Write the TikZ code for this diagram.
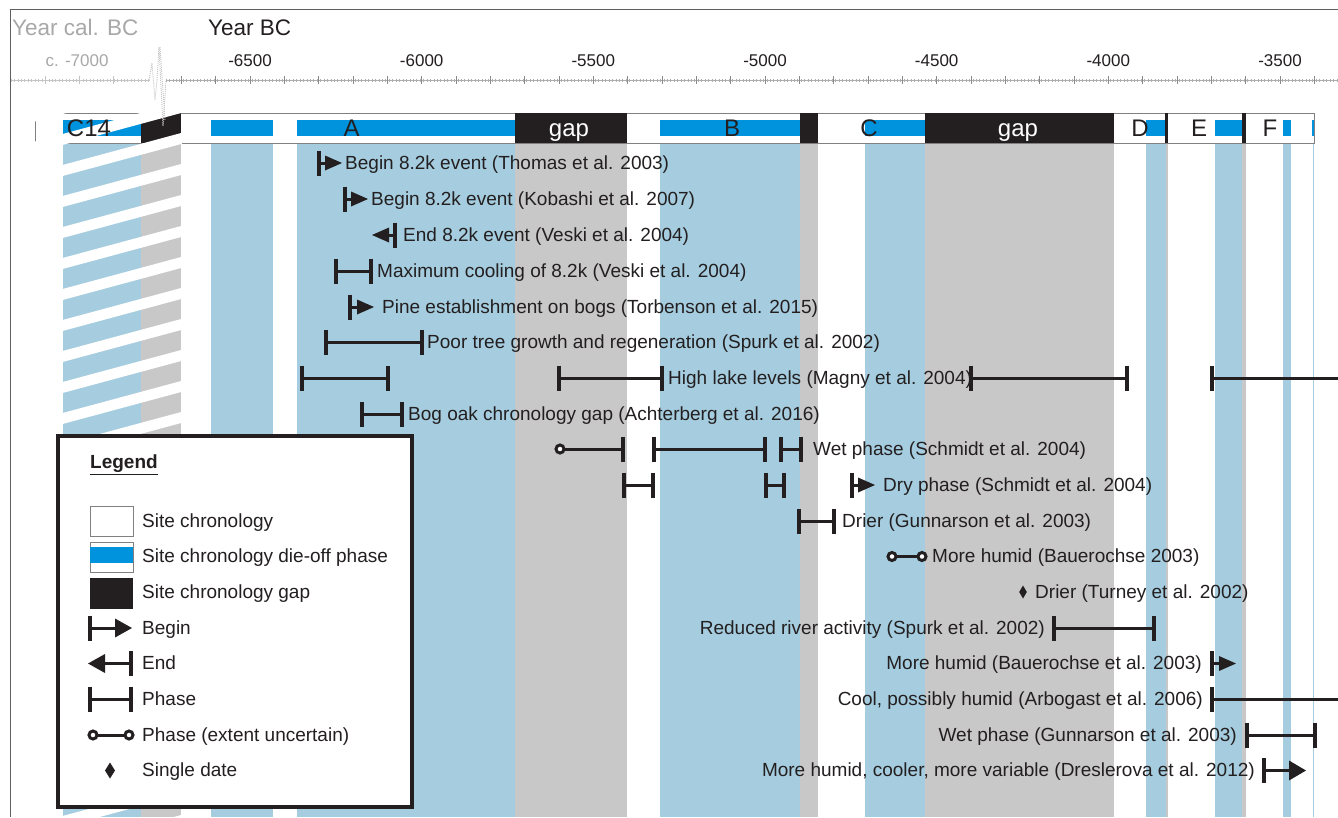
\documentclass[tikz,border=0pt]{standalone}
\usepackage{fontspec}
\setmainfont{Liberation Sans}
\definecolor{ink}{HTML}{231F20}
\definecolor{lblue}{HTML}{A5CDDF}
\definecolor{bblue}{HTML}{0093DD}
\definecolor{gcol}{HTML}{C8C8C8}
\definecolor{axdark}{HTML}{8A8A8A}
\definecolor{axlight}{HTML}{C4C4C4}
\definecolor{framegrey}{HTML}{606060}
\definecolor{labgrey}{HTML}{A8A8A8}
\newcommand{\evtk}[2]{\draw[evtick] (#1,#2-12.5) -- (#1,#2+12.5);}
\newcommand{\evphase}[3]{\draw[evline] (#1,#3) -- (#2,#3); \evtk{#1}{#3}\evtk{#2}{#3}}
\newcommand{\evbegin}[4]{\draw[evline] (#1,#3) -- (#2-10,#3); \evtk{#1}{#3}
  \fill[ink] (#2,#3) -- (#2-17,#3-#4) -- (#2-17,#3+#4) -- cycle;}
\newcommand{\evend}[4]{\draw[evline] (#1+10,#3) -- (#2,#3); \evtk{#2}{#3}
  \fill[ink] (#1,#3) -- (#1+17,#3-#4) -- (#1+17,#3+#4) -- cycle;}
\newcommand{\evdot}[2]{\draw[evline, fill=white] (#1,#2) circle[radius=4];}
\newcommand{\evdiam}[4]{\fill[ink] (#1-#3,#2) -- (#1,#2-#4) -- (#1+#3,#2) -- (#1,#2+#4) -- cycle;}
\begin{document}
\begin{tikzpicture}[x=1pt,y=-1pt,
  evline/.style={line width=3pt, draw=ink},
  evtick/.style={line width=3.3pt, draw=ink},
  baredge/.style={draw=gray, line width=1pt},
  brk/.style={draw=axlight, line width=0.9pt, dash pattern=on 1pt off 1pt},
  axmajor/.style={draw=axdark, line width=0.8pt},
  axminor/.style={draw=axdark!70, line width=0.5pt},
  evtext/.style={font=\fontsize{19}{22}\selectfont, text=ink, inner sep=0pt, anchor=base west},
  evtextr/.style={font=\fontsize{19}{22}\selectfont, text=ink, inner sep=0pt, anchor=base east},
  barlab/.style={font=\fontsize{24}{28}\selectfont, text=ink, inner sep=0pt, anchor=base},
  ticklab/.style={font=\fontsize{17}{20}\selectfont, text=ink, inner sep=0pt, anchor=base},
  titlelab/.style={font=\fontsize{22.5}{26}\selectfont, inner sep=0pt, anchor=base west}]
\useasboundingbox (0,0) rectangle (1338,817);
\fill[white] (0,0) rectangle (1338,817);

% ---------- columns ----------
\fill[lblue] (63,143) rectangle (141,817);
\fill[gcol] (141,143) rectangle (181,817);
\fill[lblue] (211,143) rectangle (273,817);
\fill[lblue] (297,143) rectangle (515,817);
\fill[gcol] (515,143) rectangle (627,817);
\fill[lblue] (660,143) rectangle (800,817);
\fill[gcol] (800,143) rectangle (818,817);
\fill[lblue] (865,143) rectangle (925,817);
\fill[gcol] (925,143) rectangle (1114,817);
\fill[lblue] (1146,143) rectangle (1166,817);
\fill[gcol] (1166,143) rectangle (1168,817);
\fill[lblue] (1215,143) rectangle (1242,817);
\fill[gcol] (1242,143) rectangle (1246,817);
\fill[lblue] (1283,143) rectangle (1291,817);
\fill[lblue] (1312.5,143) rectangle (1314,817);

% ---------- chronology bar ----------
\draw[baredge, fill=white] (35,113) rectangle (1314,143);
\fill[bblue] (63,120) rectangle (141,136);
\fill[ink] (141,113) rectangle (181,143);
\fill[bblue] (211,120) rectangle (273,136);
\fill[bblue] (297,120) rectangle (515,136);
\fill[ink] (515,113) rectangle (627,143);
\fill[bblue] (660,120) rectangle (800,136);
\fill[ink] (800,113) rectangle (818,143);
\fill[bblue] (865,120) rectangle (925,136);
\fill[ink] (925,113) rectangle (1114,143);
\fill[bblue] (1146,120) rectangle (1166,136);
\fill[ink] (1165,113) rectangle (1167.5,143);
\fill[bblue] (1215,120) rectangle (1242,136);
\fill[ink] (1242,113) rectangle (1245.5,143);
\fill[bblue] (1283,120) rectangle (1291,136);
\fill[bblue] (1312,120) rectangle (1314,136);

% ---------- hatching of the C14 part ----------
\begin{scope}
  \clip (33,110) rectangle (182,817);
  \foreach \k in {-3,...,24} {
    \pgfmathsetmacro{\yo}{113+31*\k}
    \fill[white] (30,\yo+40.8) -- (190,\yo-2.4) -- (190,\yo-13.4) -- (30,\yo+29.8) -- cycle;
  }
\end{scope}

% ---------- bar labels ----------
\node[barlab] (lc14) at (89,136) {C14};
\node[barlab] (la) at (351.5,136) {A};
\node[barlab, text=white] (lgap1) at (569,136) {gap};
\node[barlab] (lb) at (732,136) {B};
\node[barlab] (lc) at (869,136) {C};
\node[barlab, text=white] (lgap2) at (1018,136) {gap};
\node[barlab] (ld) at (1140,136) {D};
\node[barlab] (le) at (1199,136) {E};
\node[barlab] (lf) at (1270,136) {F};

% ---------- frame ----------
\draw[framegrey, line width=1pt] (1338,9.5) -- (10.5,9.5) -- (10.5,817);

% ---------- titles ----------
\node[titlelab, text=labgrey] (tcal) at (12,35) {Year cal. BC};
\node[titlelab, text=ink] (tbc) at (208,35) {Year BC};

% ---------- axis ----------
\draw[axlight, line width=0.6pt] (11,80) -- (150,80);
\foreach \i in {0,...,40} { \draw[axlight, line width=0.5pt] ({11+\i*3.4333},78.5) -- ++(0,3); }
\foreach \xx in {45,79,113} { \draw[axlight, line width=0.8pt] (\xx,76) -- (\xx,84); }
\draw[axdark!70, line width=0.6pt] (166,80) -- (1338,80);
\foreach \i in {0,...,341} { \draw[axminor] ({166+\i*3.4333},78.5) -- ++(0,3); }
\foreach \n in {-2,...,31} { \draw[axmajor] ({250+\n*34.333},76) -- ({250+\n*34.333},84); }
\draw[brk] (149,80) -- (152,63) -- (155,100) -- (157,80);
\draw[brk] (157,80) -- (159,47) -- (163,126) -- (166,80);
\draw[brk] (160,47) -- (165,120);
\node[ticklab, text=labgrey] (l7000) at (77,66.7) {c. -7000};
\node[ticklab] (l6500) at (250,66.7) {-6500};
\node[ticklab] (l6000) at (421.7,66.7) {-6000};
\node[ticklab] (l5500) at (593.3,66.7) {-5500};
\node[ticklab] (l5000) at (765,66.7) {-5000};
\node[ticklab] (l4500) at (936.7,66.7) {-4500};
\node[ticklab] (l4000) at (1108.3,66.7) {-4000};
\node[ticklab] (l3500) at (1280,66.7) {-3500};

% ---------- events ----------
\evbegin{319}{342}{163}{7.5}
\node[evtext] (e1) at (345,163+6.3) {Begin 8.2k event (Thomas et al. 2003)};
\evbegin{345}{368}{199}{7.5}
\node[evtext] (e2) at (371,199+6.3) {Begin 8.2k event (Kobashi et al. 2007)};
\evend{372}{395}{235}{7.5}
\node[evtext] (e3) at (403,235+6.3) {End 8.2k event (Veski et al. 2004)};
\evphase{336}{371}{271}
\node[evtext] (e4) at (377,271+6.3) {Maximum cooling of 8.2k (Veski et al. 2004)};
\evbegin{350}{374}{307}{7.5}
\node[evtext] (e5) at (382,307+6.3) {Pine establishment on bogs (Torbenson et al. 2015)};
\evphase{326}{422}{342.5}
\node[evtext] (e6) at (427,342.5+6.3) {Poor tree growth and regeneration (Spurk et al. 2002)};
\evphase{302}{388}{378}
\evphase{559}{662}{378}
\evphase{971}{1127}{378}
\draw[evline] (1212,378) -- (1345,378); \evtk{1212}{378}
\node[evtext] (e7) at (668,378+6.3) {High lake levels (Magny et al. 2004)};
\evphase{362}{402}{414}
\node[evtext] (e8) at (408,414+6.3) {Bog oak chronology gap (Achterberg et al. 2016)};
\draw[evline] (560,449) -- (623,449); \evtk{623}{449} \evdot{560}{449}
\evphase{654}{765}{449}
\evphase{781}{801}{449}
\node[evtext] (e9) at (813,449+6.3) {Wet phase (Schmidt et al. 2004)};
\evphase{624}{653}{485}
\evphase{766}{784}{485}
\evbegin{852}{875}{485}{7.5}
\node[evtext] (e10) at (883,485+6.3) {Dry phase (Schmidt et al. 2004)};
\evphase{799}{834}{521}
\node[evtext] (e11) at (842,521+6.3) {Drier (Gunnarson et al. 2003)};
\draw[evline] (892,556.5) -- (922,556.5); \evdot{892}{556.5} \evdot{922}{556.5}
\node[evtext] (e12) at (932,556.5+6.3) {More humid (Bauerochse 2003)};
\evdiam{1023}{592}{3.8}{6.5}
\node[evtext] (e13) at (1035,592+6.3) {Drier (Turney et al. 2002)};
\evphase{1054}{1154}{628}
\node[evtextr] (e14) at (1045,628+6.3) {Reduced river activity (Spurk et al. 2002)};
\evbegin{1212}{1236}{663.5}{7.5}
\node[evtextr] (e15) at (1202,663.5+6.3) {More humid (Bauerochse et al. 2003)};
\draw[evline] (1212,699) -- (1345,699); \evtk{1212}{699}
\node[evtextr] (e16) at (1203,699+6.3) {Cool, possibly humid (Arbogast et al. 2006)};
\evphase{1247}{1315}{735}
\node[evtextr] (e17) at (1237,735+6.3) {Wet phase (Gunnarson et al. 2003)};
\evbegin{1264}{1306}{770.5}{10}
\node[evtextr] (e18) at (1255,770.5+6.3) {More humid, cooler, more variable (Dreslerova et al. 2012)};

% ---------- legend ----------
\draw[ink, line width=3.3pt, fill=white] (58,436) rectangle (412,807);
\node[evtext, font=\fontsize{19}{22}\selectfont\bfseries] (leg) at (90,462+6.3) {\underline{Legend}};
\draw[gray, line width=0.8pt, fill=white] (90,506) rectangle (133,536);
\node[evtext] (g1) at (142,521+6.3) {Site chronology};
\draw[gray, line width=0.8pt, fill=white] (90,542) rectangle (133,572);
\fill[bblue] (90.4,547) rectangle (132.6,563);
\node[evtext] (g2) at (142,556.5+6.3) {Site chronology die-off phase};
\fill[ink] (90,578) rectangle (133,609);
\node[evtext] (g3) at (142,592+6.3) {Site chronology gap};
\evbegin{90}{132}{628}{9.5}
\node[evtext] (g4) at (142,628+6.3) {Begin};
\evend{88}{131}{663.5}{9.5}
\node[evtext] (g5) at (142,663.5+6.3) {End};
\evphase{90}{131}{699}
\node[evtext] (g6) at (142,699+6.3) {Phase};
\draw[evline] (93,735) -- (129,735); \evdot{93}{735} \evdot{129}{735}
\node[evtext] (g7) at (142,735+6.3) {Phase (extent uncertain)};
\evdiam{110}{770.5}{5}{8}
\node[evtext] (g8) at (142,770.5+6.3) {Single date};
\end{tikzpicture}
\end{document}
